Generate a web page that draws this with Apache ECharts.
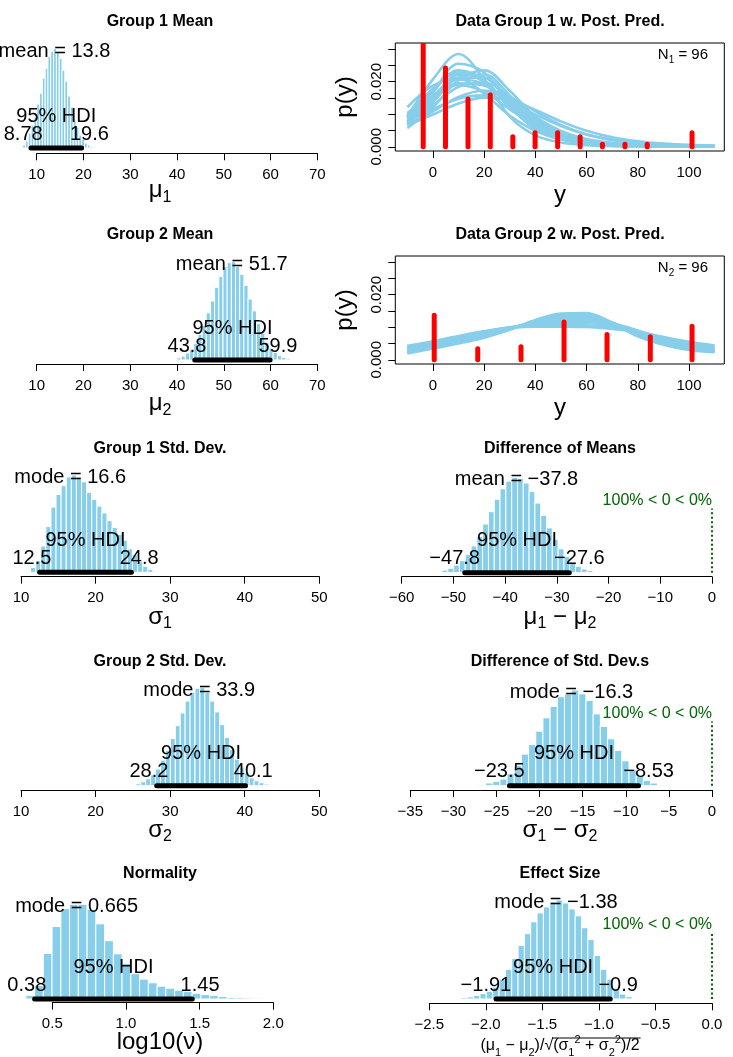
<!DOCTYPE html>
<html><head><meta charset="utf-8">
<script src="https://cdn.jsdelivr.net/npm/echarts@6/dist/echarts.min.js"></script>
<style>html,body{margin:0;padding:0;background:#fff}#c{width:733px;height:1057px}</style>
</head><body><div id="c"></div>
<script>
// ---------------- data ----------------
const leftTitles  = ['Group 1 Mean','Group 2 Mean','Group 1 Std. Dev.','Group 2 Std. Dev.','Normality'];
const rightTitles = ['Data Group 1 w. Post. Pred.','Data Group 2 w. Post. Pred.','Difference of Means','Difference of Std. Dev.s','Effect Size'];

// posterior histograms: bin mids, relative density, bin width
const mu1Mids = [7.30,7.90,8.50,9.10,9.71,10.31,10.91,11.51,12.11,12.71,13.31,13.91,14.51,15.11,15.71,16.32,16.92,17.52,18.12,18.72,19.32,19.92,20.52,21.12,21.73,22.33,22.93];
const mu1Dens = [3,7,15,23,31,44,55,70,80,92,97,100,96,90,78,67,52,41,28,21,13,9,5,3,1.6,0.9,0.4];
const mu1BinW = 0.601, mu1Mean = 13.8, mu1Hdi = [8.78, 19.6];

const mu2Mids = [40.45,41.34,42.23,43.13,44.02,44.92,45.81,46.70,47.60,48.49,49.39,50.28,51.17,52.07,52.96,53.86,54.75,55.64,56.54,57.43,58.33,59.22,60.11,61.01,61.90,62.80,63.69];
const mu2Dens = [2.3,4,7,11,17,26,35,48,60,74,85,95,99,100,95,87,76,62,50,37,27,18,12,7.6,4.5,2.6,1.4];
const mu2BinW = 0.894, mu2Mean = 51.7, mu2Hdi = [43.8, 59.9];

const sd1Mids = [10.94,11.62,12.31,12.99,13.67,14.36,15.04,15.72,16.41,17.09,17.77,18.46,19.14,19.82,20.51,21.19,21.87,22.56,23.24,23.92,24.61,25.29,25.97,26.66,27.34,28.02];
const sd1Dens = [1,5,12,27,47,67,80,89,98,100,98,93,82,75,68,61,53,46,39,33,24,18,11,6,3,1];
const sd1BinW = 0.683, sd1Mode = 16.6, sd1Hdi = [12.5, 24.8];

const sd2Mids = [25.73,26.39,27.05,27.71,28.37,29.04,29.70,30.36,31.02,31.68,32.34,33.00,33.66,34.32,34.98,35.64,36.31,36.97,37.63,38.29,38.95,39.61,40.27,40.93,41.59,42.25,42.92,43.58];
const sd2Dens = [2,4,7,11,17,26,36,48,61,74,86,95,99,100,95,86,75,62,49,37,27,19,13,8,5,3,1.6,0.8];
const sd2BinW = 0.661, sd2Mode = 33.9, sd2Hdi = [28.2, 40.1];

const nuMids = [0.350,0.409,0.469,0.528,0.588,0.647,0.706,0.766,0.825,0.885,0.944,1.003,1.063,1.122,1.182,1.241,1.300,1.360,1.419,1.479,1.538,1.597,1.657,1.716,1.776,1.835,1.895];
const nuDens = [11,40,135,215,268,281,281,266,223,173,134,106,75,59,48,38,32,26,22,17,13,10,7.5,5,4,3,2];
const nuBinW = 0.0594, nuMode = 0.665, nuHdi = [0.38, 1.45];

const dmMids = [-51.64,-50.52,-49.40,-48.28,-47.15,-46.03,-44.91,-43.79,-42.66,-41.54,-40.42,-39.30,-38.17,-37.05,-35.93,-34.81,-33.68,-32.56,-31.44,-30.32,-29.19,-28.07,-26.95,-25.83,-24.70,-23.58];
const dmDens = [2.7,4.7,8,12.6,19,28,38,51,64,77,88,96,100,99,94,85,73,60,47,35,25,17,11,6.7,3.9,2.2];
const dmBinW = 1.122, dmMean = -37.8, dmHdi = [-47.8, -27.6];

const dsMids = [-26.68,-25.85,-25.02,-24.19,-23.36,-22.52,-21.69,-20.86,-20.03,-19.20,-18.36,-17.53,-16.70,-15.87,-15.04,-14.20,-13.37,-12.54,-11.71,-10.88,-10.04,-9.21,-8.38,-7.55,-6.72,-5.88];
const dsDens = [1.2,2.8,4.6,7,12.5,21,33,43,57,71,83,93,96,100,96,89,75,62,49,37,26,17,10,5.5,2.8,1.2];
const dsBinW = 0.832, dsMode = -16.3, dsHdi = [-23.5, -8.53];

const esMids = [-2.192,-2.136,-2.080,-2.024,-1.968,-1.912,-1.855,-1.799,-1.743,-1.687,-1.631,-1.575,-1.519,-1.463,-1.407,-1.351,-1.295,-1.238,-1.182,-1.126,-1.070,-1.014,-0.958,-0.902,-0.846,-0.790,-0.734];
const esDens = [1.5,2.1,3.6,5.4,7.8,12,20,30,41,54,66,78,87,93,98,100,97,91,84,72,60,44,30,20,11,5,2.4];
const esBinW = 0.0561, esMode = -1.38, esHdi = [-1.91, -0.9];

const compValue = 0, compText = '100% < 0 < 0%';

// data histograms (red) and posterior predictive curves (blue)
const g1DataMids = [-3.8,4.9,13.7,22.4,31.2,39.9,48.7,57.5,66.2,75.0,83.7,101.2];
const g1DataDens = [0.0340,0.0242,0.0147,0.0160,0.0031,0.0043,0.0043,0.0031,0.0008,0.0008,0.0008,0.0043];
const g2DataMids = [0.5,17.5,34.4,51.2,68.0,84.9,101.2];
const g2DataDens = [0.0137,0.0034,0.0040,0.0116,0.0078,0.0071,0.0103];

const curveX = [-10,0,10,20,30,40,50,60,70,80,90,100,110];
const g1Curves = [
 [0.0093,0.0207,0.0285,0.0207,0.0093,0.0035,0.0013,0.0005,0.0002,0.0001,0.00005,0.00003,0.00002],
 [0.0077,0.0167,0.0255,0.0228,0.0126,0.0054,0.0022,0.0009,0.0004,0.0002,0.0001,0.00005,0.00003],
 [0.0091,0.0172,0.0235,0.0205,0.0121,0.0057,0.0025,0.0011,0.0005,0.0002,0.0001,0.00007,0.00004],
 [0.0122,0.0188,0.0209,0.0163,0.0096,0.0049,0.0023,0.0011,0.0006,0.0003,0.00015,0.00009,0.00005],
 [0.0076,0.0145,0.0212,0.0212,0.0145,0.0076,0.0035,0.0016,0.0008,0.0004,0.0002,0.0001,0.00006],
 [0.0057,0.0121,0.0205,0.0235,0.0172,0.0091,0.0041,0.0018,0.0008,0.0004,0.0002,0.0001,0.00005],
 [0.0087,0.0147,0.0195,0.0188,0.0134,0.0077,0.0039,0.0020,0.0010,0.0005,0.0003,0.00015,0.00009],
 [0.0065,0.0099,0.0133,0.0151,0.0143,0.0113,0.0078,0.0049,0.0029,0.0017,0.0010,0.0006,0.0004],
 [0.0104,0.0159,0.0190,0.0169,0.0115,0.0066,0.0035,0.0018,0.0009,0.0005,0.0003,0.00016,0.00009],
 [0.0072,0.0128,0.0184,0.0197,0.0153,0.0092,0.0049,0.0024,0.0012,0.0006,0.0003,0.00018,0.0001],
 [0.0077,0.0115,0.0148,0.0158,0.0137,0.0099,0.0064,0.0038,0.0022,0.0012,0.0007,0.0004,0.0003],
 [0.0090,0.0157,0.0207,0.0193,0.0129,0.0069,0.0034,0.0016,0.0008,0.0004,0.0002,0.00012,0.00007],
 [0.0067,0.0109,0.0153,0.0173,0.0153,0.0109,0.0067,0.0038,0.0021,0.0011,0.0006,0.0004,0.0002],
 [0.0083,0.0152,0.0221,0.0214,0.0139,0.0070,0.0031,0.0014,0.0007,0.0003,0.0002,0.0001,0.00006],
 [0.0070,0.0137,0.0214,0.0222,0.0158,0.0084,0.0039,0.0017,0.0008,0.0004,0.0002,0.0001,0.00006],
 [0.0098,0.0178,0.0228,0.0199,0.0122,0.0060,0.0027,0.0012,0.0006,0.0003,0.0001,0.00008,0.00005]
];
const g2Curves = [
 [0.0019,0.0035,0.0050,0.0068,0.0092,0.0122,0.0142,0.0144,0.0114,0.0072,0.0046,0.0030,0.0023],
 [0.0022,0.0037,0.0053,0.0071,0.0094,0.0120,0.0138,0.0140,0.0115,0.0077,0.0050,0.0033,0.0025],
 [0.0025,0.0040,0.0056,0.0074,0.0095,0.0118,0.0133,0.0135,0.0114,0.0082,0.0055,0.0037,0.0028],
 [0.0028,0.0043,0.0059,0.0077,0.0096,0.0116,0.0129,0.0131,0.0113,0.0085,0.0059,0.0040,0.0030],
 [0.0031,0.0046,0.0062,0.0080,0.0097,0.0113,0.0124,0.0126,0.0111,0.0087,0.0062,0.0043,0.0032],
 [0.0034,0.0049,0.0066,0.0082,0.0097,0.0110,0.0118,0.0120,0.0109,0.0088,0.0065,0.0046,0.0035],
 [0.0037,0.0052,0.0068,0.0084,0.0098,0.0107,0.0112,0.0113,0.0105,0.0088,0.0067,0.0049,0.0038],
 [0.0040,0.0055,0.0071,0.0086,0.0098,0.0104,0.0106,0.0106,0.0100,0.0087,0.0069,0.0052,0.0041],
 [0.0043,0.0057,0.0073,0.0088,0.0099,0.0102,0.0102,0.0101,0.0095,0.0085,0.0070,0.0055,0.0044],
 [0.0030,0.0047,0.0065,0.0085,0.0100,0.0112,0.0120,0.0122,0.0112,0.0090,0.0066,0.0046,0.0034]
];
const dataXTicks  = [0,20,40,60,80,100];
const dataYTicks  = [0,0.005,0.010,0.015,0.020,0.025,0.030];
const dataYLabels = [0,0.020];
const dataXRange  = [-14.7, 113.8];
const dataYRange  = [-0.0013, 0.0319];
const groupN = [96, 96];

// ---------------- styling / layout ----------------
const FONT = '"Liberation Sans", Arial, Helvetica, sans-serif';
const SKY = '#87CEEB', GREEN = '#006400';
const ROWS = [0, 213, 426.5, 639.5, 852];
const minus = s => String(s).replace('-', '\u2212');
const ctx = document.createElement('canvas').getContext('2d');
function textW(t, size){ ctx.font = size + 'px "Liberation Sans", Arial, sans-serif'; return ctx.measureText(t).width; }

const grids = [], xAxes = [], yAxes = [], series = [], graphics = [];

function histPanel(p){
  const gi = grids.length;
  grids.push({left:p.grid[0], top:p.grid[1], width:p.grid[2], height:p.grid[3], containLabel:false, outerBoundsMode:'none'});
  const maxD = Math.max.apply(null, p.dens);
  xAxes.push({gridIndex:gi, type:'value', min:p.axis[0], max:p.axis[1], interval:p.axis[2], offset:p.offset,
    axisLine:{show:true, onZero:false, lineStyle:{color:'#000', width:1}},
    axisTick:{show:true, length:7, lineStyle:{color:'#000', width:1}},
    axisLabel:{show:true, margin:14, fontSize:15, fontFamily:FONT, color:'#000',
      formatter: v => minus(v.toFixed(p.dec))},
    splitLine:{show:false}});
  yAxes.push({gridIndex:gi, type:'value', min:0, max:maxD, show:false, axisLine:{onZero:false}});
  series.push({type:'custom', xAxisIndex:gi, yAxisIndex:gi, clip:false, silent:true, z:2,
    data: p.mids.map((m,k) => [m - p.w/2, m + p.w/2, p.dens[k]]),
    renderItem: (params, api) => {
      const a = api.coord([api.value(0), api.value(2)]);
      const b = api.coord([api.value(1), 0]);
      return {type:'rect', shape:{x:a[0], y:a[1], width:b[0]-a[0], height:b[1]-a[1]},
        style:{fill:SKY, stroke:'#fff', lineWidth:1}};
    }});
  // HDI bar
  series.push({type:'custom', xAxisIndex:gi, yAxisIndex:gi, clip:false, silent:true, z:3,
    data:[[p.hdi[0], p.hdi[1]]],
    renderItem: (params, api) => {
      const a = api.coord([api.value(0), 0]);
      const b = api.coord([api.value(1), 0]);
      return {type:'line', shape:{x1:a[0], y1:a[1], x2:b[0], y2:b[1]},
        style:{stroke:'#000', lineWidth:5, lineCap:'round'}};
    }});
  const loTxt = minus(p.hdi[0]), hiTxt = minus(p.hdi[1]);
  const labels = [
    {value:[p.ct, 0.9*maxD], label:{formatter: p.ctName + ' = ' + minus(p.ct), align:'center', offset:[0,-7]}},
    {value:[(p.hdi[0]+p.hdi[1])/2, 0], label:{formatter:'95% HDI', align:'center', offset:[0,-32]}},
    {value:[p.hdi[0], 0], label:{formatter: loTxt, align:'right', offset:[0.3*textW(loTxt,20), -14]}},
    {value:[p.hdi[1], 0], label:{formatter: hiTxt, align:'left', offset:[-0.3*textW(hiTxt,20), -14]}}
  ];
  if (p.comp) {
    series.push({type:'line', xAxisIndex:gi, yAxisIndex:gi, clip:false, silent:true, symbol:'none', z:3,
      data:[[compValue,0],[compValue,0.96*0.7*maxD]], lineStyle:{color:GREEN, width:2, type:[2,2.5]}});
    labels.push({value:[compValue, 0.7*maxD], label:{formatter:compText, align:'right', fontSize:16, color:GREEN, offset:[0,-5.6]}});
  }
  series.push({type:'scatter', xAxisIndex:gi, yAxisIndex:gi, clip:false, silent:true, z:5,
    symbolSize:1, itemStyle:{color:'transparent', opacity:1}, data:labels,
    label:{show:true, position:'inside', verticalAlign:'middle', fontSize:20, fontFamily:FONT, color:'#000',
      opacity:1, textBorderWidth:0, textBorderColor:'transparent', textShadowBlur:0}});
}

function dataPanel(p){
  const gi = grids.length;
  grids.push({left:395.3, top:p.top, width:329, height:108, show:true, borderColor:'#000', borderWidth:1,
    backgroundColor:'transparent', containLabel:false, outerBoundsMode:'none'});
  xAxes.push({gridIndex:gi, type:'value', min:dataXRange[0], max:dataXRange[1],
    axisLine:{show:false, onZero:false},
    axisTick:{show:true, length:7, customValues:dataXTicks, lineStyle:{color:'#000', width:1}},
    axisLabel:{show:true, customValues:dataXTicks, margin:14, fontSize:15, fontFamily:FONT, color:'#000'},
    splitLine:{show:false}});
  yAxes.push({gridIndex:gi, type:'value', min:dataYRange[0], max:dataYRange[1],
    axisLine:{show:false, onZero:false},
    axisTick:{show:true, length:7, customValues:dataYTicks, lineStyle:{color:'#000', width:1}},
    axisLabel:{show:true, customValues:dataYLabels, rotate:90, margin:11, fontSize:15, fontFamily:FONT, color:'#000',
      formatter: v => v.toFixed(3)},
    splitLine:{show:false}});
  p.curves.forEach(c => series.push({type:'line', xAxisIndex:gi, yAxisIndex:gi, silent:true, symbol:'none',
    smooth:0.35, z:2, data: curveX.map((x,k) => [x, c[k]]), lineStyle:{color:SKY, width:2.6}}));
  series.push({type:'custom', xAxisIndex:gi, yAxisIndex:gi, clip:true, silent:true, z:4,
    data: p.mids.map((m,k) => [m, p.dens[k]]),
    renderItem: (params, api) => {
      const a = api.coord([api.value(0), 0]);
      const b = api.coord([api.value(0), api.value(1)]);
      return {type:'line', shape:{x1:a[0], y1:a[1], x2:b[0], y2:b[1]},
        style:{stroke:'#f00', lineWidth:5, lineCap:'round'}};
    }});
}

histPanel({mids:mu1Mids, dens:mu1Dens, w:mu1BinW, ct:mu1Mean, ctName:'mean', hdi:mu1Hdi, axis:[10,70,10], dec:0, grid:[36.7,48.3,280.6,99.7], offset:5.3});
dataPanel({mids:g1DataMids, dens:g1DataDens, curves:g1Curves, top:43});
histPanel({mids:mu2Mids, dens:mu2Dens, w:mu2BinW, ct:mu2Mean, ctName:'mean', hdi:mu2Hdi, axis:[10,70,10], dec:0, grid:[36.7,261.7,280.6,98.3], offset:4});
dataPanel({mids:g2DataMids, dens:g2DataDens, curves:g2Curves, top:256});
histPanel({mids:sd1Mids, dens:sd1Dens, w:sd1BinW, ct:sd1Mode, ctName:'mode', hdi:sd1Hdi, axis:[10,50,10], dec:0, grid:[21,475,298.3,97.3], offset:4.4});
histPanel({mids:dmMids, dens:dmDens, w:dmBinW, ct:dmMean, ctName:'mean', hdi:dmHdi, axis:[-60,0,10], dec:0, grid:[401.7,477.3,310.3,95.4], offset:4, comp:true});
histPanel({mids:sd2Mids, dens:sd2Dens, w:sd2BinW, ct:sd2Mode, ctName:'mode', hdi:sd2Hdi, axis:[10,50,10], dec:0, grid:[21,687.3,298.3,98.4], offset:4.3});
histPanel({mids:dsMids, dens:dsDens, w:dsBinW, ct:dsMode, ctName:'mode', hdi:dsHdi, axis:[-35,0,5], dec:0, grid:[410.3,690,301.7,95.7], offset:4.3, comp:true});
histPanel({mids:nuMids, dens:nuDens, w:nuBinW, ct:nuMode, ctName:'mode', hdi:nuHdi, axis:[0.5,2.0,0.5], dec:1, grid:[52.3,904.3,221,94.7], offset:3.7});
histPanel({mids:esMids, dens:esDens, w:esBinW, ct:esMode, ctName:'mode', hdi:esHdi, axis:[-2.5,0,0.5], dec:1, grid:[429.3,900,282.7,99], offset:4.3, comp:true});

// ---------------- titles and axis titles ----------------
function txt(x, y, text, extra){
  graphics.push({type:'text', x:x, y:y, silent:true, z:10,
    style:Object.assign({text:text, fontFamily:FONT, fill:'#000', align:'center', verticalAlign:'middle'}, extra||{})});
}
const big = {fontSize:24, rich:{
  m:{fontSize:24, lineHeight:30, fontFamily:FONT, fill:'#000'},
  s:{fontSize:16, lineHeight:16, fontFamily:FONT, fill:'#000', verticalAlign:'bottom'}}};
ROWS.forEach((r, i) => {
  txt(160, 22 + r, leftTitles[i], {fontSize:16, fontWeight:'bold'});
  txt(560, 22 + r, rightTitles[i], {fontSize:16, fontWeight:'bold'});
});
const leftX = ['{m|μ}{s|1}','{m|μ}{s|2}','{m|σ}{s|1}','{m|σ}{s|2}','{m|log10(ν)}'];
const rightX = ['{m|y}','{m|y}','{m|μ}{s|1}{m| − μ}{s|2}','{m|σ}{s|1}{m| − σ}{s|2}'];
const rightXShift = [5, 5, 0, 0];
leftX.forEach((t,i) => txt(160, 190.5 + ROWS[i], t, big));
rightX.forEach((t,i) => txt(560, 190.5 + rightXShift[i] + ROWS[i], t, big));
// p(y) labels
[97, 310].forEach(y => graphics.push({type:'text', x:345.5, y:y, rotation:Math.PI/2, silent:true, z:10,
  style:{text:'p(y)', fontSize:24, fontFamily:FONT, fill:'#000', align:'center', verticalAlign:'middle'}}));
// N labels
[55, 268.3].forEach((y,i) => txt(708, y, '{m|N}{s|' + (i+1) + '}{m| = ' + groupN[i] + '}', {align:'right', rich:{
  m:{fontSize:15, lineHeight:20, fontFamily:FONT, fill:'#000'},
  s:{fontSize:10, lineHeight:10, fontFamily:FONT, fill:'#000', verticalAlign:'bottom'}}}));
// effect size axis title
const esTokens = [['(μ',16],['1',11],[' − μ',16],['2',11],[')/√',16],['(σ',16],['1',11],['2',11],[' + σ',16],['2',11],['2',11],[')/2',16]];
const esKinds  = ['e','a','e','a','e','e','a','b','e','a','b','e'];
const esText = esTokens.map((t,k) => '{' + esKinds[k] + '|' + t[0] + '}').join('');
const esW = esTokens.reduce((s,t) => s + textW(t[0], t[1]), 0);
const esPre = esTokens.slice(0,5).reduce((s,t) => s + textW(t[0], t[1]), 0);
const esY = 194 + ROWS[4];
txt(560, esY, esText, {rich:{
  e:{fontSize:16, lineHeight:24, fontFamily:FONT, fill:'#000'},
  a:{fontSize:11, lineHeight:11, fontFamily:FONT, fill:'#000', verticalAlign:'bottom'},
  b:{fontSize:11, lineHeight:11, fontFamily:FONT, fill:'#000', verticalAlign:'top'}}});
graphics.push({type:'line', silent:true, z:10,
  shape:{x1:560 - esW/2 + esPre - 1, y1:esY - 8, x2:560 + esW/2 + 1, y2:esY - 8},
  style:{stroke:'#000', lineWidth:1}});

const chart = echarts.init(document.getElementById('c'), null, {renderer:'canvas', width:733, height:1057});
chart.setOption({
  animation:false, backgroundColor:'#fff',
  grid:grids, xAxis:xAxes, yAxis:yAxes, series:series,
  graphic:{elements:graphics}
});
</script></body></html>
